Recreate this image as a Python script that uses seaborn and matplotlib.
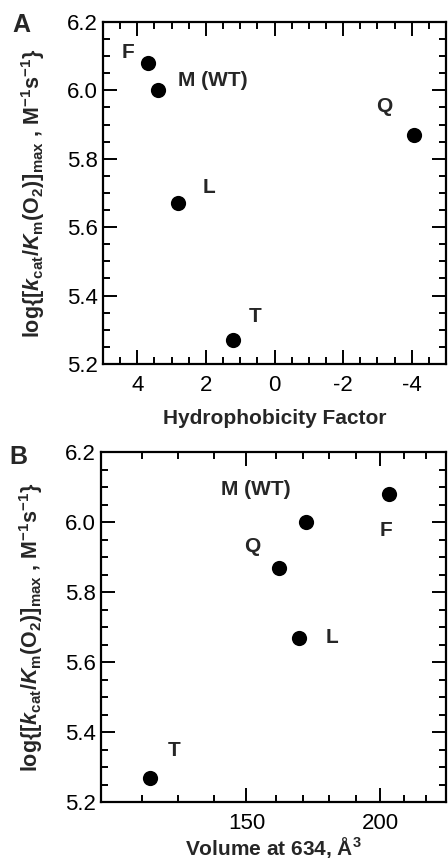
import numpy as np
import pandas as pd
import matplotlib
matplotlib.use('Agg')
import matplotlib.pyplot as plt
from matplotlib.ticker import MultipleLocator, FixedLocator
import seaborn as sns

# 数据
mutants = ['F', 'M (WT)', 'Q', 'L', 'T']
hydro = [3.68, 3.40, -4.06, 2.82, 1.20]
volume = [203.2, 172.4, 162.0, 169.6, 113.9]
log_kcat = [6.08, 6.00, 5.87, 5.67, 5.27]

df = pd.DataFrame({'mut': mutants, 'hydro': hydro, 'vol': volume, 'logk': log_kcat})

sns.set_style('ticks')
plt.rcParams['font.family'] = ['Liberation Sans', 'DejaVu Sans']
plt.rcParams['axes.unicode_minus'] = False
plt.rcParams['mathtext.fontset'] = 'custom'
plt.rcParams['mathtext.rm'] = 'Liberation Sans:bold'
plt.rcParams['mathtext.it'] = 'Liberation Sans:bold:italic'
plt.rcParams['mathtext.bf'] = 'Liberation Sans:bold'

ylab = r'log{[$\it{k}_{\rm cat}$/$\it{K}_{\rm m}$(O$_2$)]$_{\rm max}$ , M$^{-1}$s$^{-1}$}'

fig = plt.figure(figsize=(4.48, 8.63), dpi=100)
axA = fig.add_axes([103/448, 1-364/863, 343/448, 342/863])
axB = fig.add_axes([101/448, 1-802/863, 345/448, 350/863])


def style(ax):
    for s in ax.spines.values():
        s.set_linewidth(1.6)
        s.set_visible(True)
        s.set_color('black')
    ax.tick_params(which='both', direction='in', top=True, right=True,
                   width=1.4, colors='black', labelsize=16)
    ax.tick_params(axis='y', which='both', pad=4)
    ax.tick_params(axis='x', which='both', pad=8)
    ax.tick_params(which='major', length=10)
    ax.tick_params(which='minor', length=5)
    ax.set_ylim(5.2, 6.2)
    ax.yaxis.set_major_locator(MultipleLocator(0.2))
    ax.yaxis.set_minor_locator(MultipleLocator(0.05))
    ax.yaxis.set_major_formatter(matplotlib.ticker.FormatStrFormatter('%.1f'))
    ax.set_ylabel(ylab, fontsize=15.5, fontweight='bold', labelpad=14)


# A 疏水性
sns.scatterplot(data=df, x='hydro', y='logk', ax=axA, s=120, color='black',
                edgecolor='black', linewidth=0, legend=False, zorder=3)
style(axA)
axA.set_xlim(5, -5)
axA.xaxis.set_major_locator(MultipleLocator(2))
axA.xaxis.set_minor_locator(MultipleLocator(0.5))
axA.set_xlabel('Hydrophobicity Factor', fontsize=15, fontweight='bold', labelpad=9)
offA = {'F': (-20, 11), 'M (WT)': (55, 10), 'Q': (-30, 28), 'L': (31, 16), 'T': (22, 24)}
for m, x, y in zip(mutants, hydro, log_kcat):
    axA.annotate(m, (x, y), xytext=offA[m], textcoords='offset pixels',
                 ha='center', va='center', fontsize=15, fontweight='bold')
axA.text(-0.239, 0.991, 'A', transform=axA.transAxes, fontsize=18,
         fontweight='bold', ha='center', va='center')

# B 体积
sns.scatterplot(data=df, x='vol', y='logk', ax=axB, s=120, color='black',
                edgecolor='black', linewidth=0, legend=False, zorder=3)
style(axB)
axB.set_xlim(95.6, 224.6)
axB.xaxis.set_major_locator(FixedLocator([150, 200]))
axB.xaxis.set_minor_locator(FixedLocator([111, 124.5, 138, 161, 171, 181, 191, 209, 217]))
axB.set_xlabel(r'Volume at 634, Å$^3$', fontsize=15, fontweight='bold', labelpad=0.5)
offB = {'F': (-3, -36), 'M (WT)': (-51, 33), 'Q': (-26, 21), 'L': (33, 0), 'T': (24, 27)}
for m, x, y in zip(mutants, volume, log_kcat):
    axB.annotate(m, (x, y), xytext=offB[m], textcoords='offset pixels',
                 ha='center', va='center', fontsize=15, fontweight='bold')
axB.text(-0.24, 0.986, 'B', transform=axB.transAxes, fontsize=18,
         fontweight='bold', ha='center', va='center')

fig.savefig('out.png', dpi=100)
